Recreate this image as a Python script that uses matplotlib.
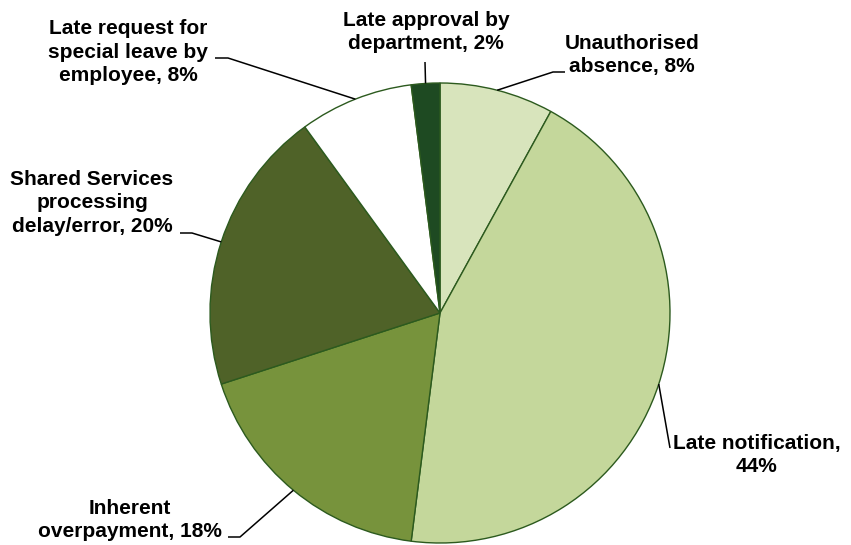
import numpy as np
import matplotlib.pyplot as plt

plt.rcParams['font.family'] = ['Liberation Sans', 'DejaVu Sans']

labels = ['Unauthorised\nabsence, 8%',
          'Late notification,\n44%',
          'Inherent\noverpayment, 18%',
          'Shared Services\nprocessing\ndelay/error, 20%',
          'Late request for\nspecial leave by\nemployee, 8%',
          'Late approval by\ndepartment, 2%']
values = [8, 44, 18, 20, 8, 2]
colors = ['#d8e4bc', '#c4d79b', '#77933c', '#4f6228', '#ffffff', '#1e4a22']

W, H = 851, 545
fig = plt.figure(figsize=(W / 100, H / 100), dpi=100)
ax = fig.add_axes([0, 0, 1, 1])

cx, cy, r = 440, H - 313, 230
wedges, _ = ax.pie(values, colors=colors, startangle=90, counterclock=False,
                   center=(cx, cy), radius=r, frame=True,
                   wedgeprops=dict(edgecolor='#2c5a1e', linewidth=1))
ax.set_xlim(0, W)
ax.set_ylim(0, H)
ax.set_aspect('equal')
ax.axis('off')

# label text centre (x, y from top) and the leader line's elbow points
text_pos = [(632, 55), (757, 455), (130, 520), (92, 203), (128, 52), (426, 32)]
elbows = [[(565, 72), (553, 72)],
          [(670, 448)],
          [(228, 537), (240, 537)],
          [(180, 233), (192, 233)],
          [(215, 58), (228, 58)],
          [(425, 62)]]

for w, lab, (tx, ty), pts in zip(wedges, labels, text_pos, elbows):
    ang = np.deg2rad((w.theta1 + w.theta2) / 2)
    px, py = cx + r * np.cos(ang), cy + r * np.sin(ang)
    xs = [p[0] for p in pts] + [px]
    ys = [H - p[1] for p in pts] + [py]
    ax.plot(xs, ys, color='black', lw=1.1, solid_capstyle='butt')
    ax.text(tx, H - ty, lab, ha='center', va='center', fontsize=15,
            fontweight='bold', linespacing=1.3)

fig.savefig('out.png', dpi=100)
